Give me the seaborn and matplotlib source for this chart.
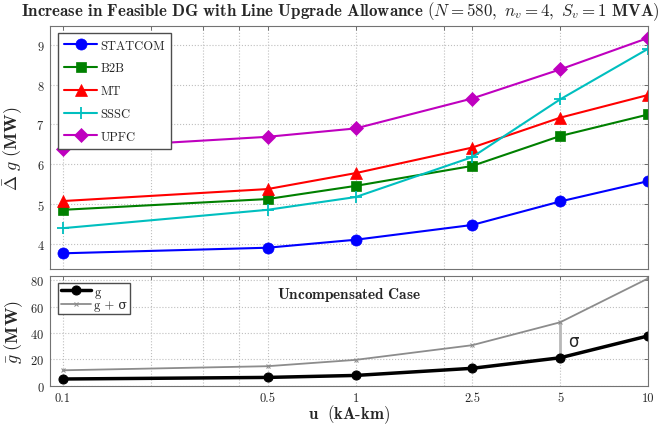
import matplotlib
matplotlib.use("Agg")
import matplotlib.pyplot as plt
import seaborn as sns
import pandas as pd
import numpy as np

# ---- data ----
u_vals = [0.1, 0.5, 1, 2.5, 5, 10]
statcom = [3.77, 3.91, 4.11, 4.48, 5.07, 5.58]
b2b = [4.86, 5.13, 5.46, 5.96, 6.71, 7.25]
mt = [5.08, 5.38, 5.78, 6.42, 7.17, 7.74]
sssc = [4.40, 4.86, 5.18, 6.18, 7.63, 8.90]
upfc = [6.39, 6.69, 6.90, 7.65, 8.38, 9.17]
g_vals = [5.2, 6.4, 7.9, 13.3, 21.3, 37.9]
g_sigma = [11.8, 14.9, 19.7, 30.8, 48.2, 81.5]
tick_vals = [0.1, 0.2, 0.3, 0.4, 0.5, 1, 2, 2.5, 5, 10]
tick_labels = ["0.1", "", "", "", "0.5", "1", "", "2.5", "5", "10"]

sns.set_style("white")
plt.rcParams["font.family"] = ["cmr10", "DejaVu Serif"]
plt.rcParams["mathtext.fontset"] = "cm"
plt.rcParams["axes.formatter.use_mathtext"] = True

fig = plt.figure(figsize=(6.67, 4.27), dpi=100)
ax1 = fig.add_axes([0.075, 0.368, 0.897, 0.569])
ax2 = fig.add_axes([0.075, 0.094, 0.897, 0.258])

series = [
    ("STATCOM", statcom, (0, 0, 1), "o", 8),
    ("B2B", b2b, (0, 0.5, 0), "s", 6.5),
    ("MT", mt, (1, 0, 0), "^", 8.5),
    ("SSSC", sssc, (0, 0.75, 0.75), "+", 9),
    ("UPFC", upfc, (0.75, 0, 0.75), "D", 7),
]
for name, vals, col, mk, ms in series:
    df = pd.DataFrame({"u": u_vals, "v": vals})
    sns.lineplot(data=df, x="u", y="v", ax=ax1, color=col, marker=mk,
                 markersize=ms, linewidth=1.5, label=name,
                 markeredgecolor=col, markeredgewidth=1.3 if mk == "+" else 0.5)

dfg = pd.DataFrame({"u": u_vals, "g": g_vals, "gs": g_sigma})
sns.lineplot(data=dfg, x="u", y="g", ax=ax2, color="black", marker="o",
             markersize=6.5, linewidth=2.5, label="g", markeredgecolor="black")
sns.lineplot(data=dfg, x="u", y="gs", ax=ax2, color=(0.55, 0.55, 0.55), marker="x",
             markersize=3, linewidth=1.3, label="g + σ",
             markeredgecolor=(0.55, 0.55, 0.55))
ax2.vlines(u_vals[4], g_vals[4], g_sigma[4], color=(0.72, 0.72, 0.72), linewidth=2, zorder=1)
ax2.text(5.3, 34, "σ", fontsize=12, family="DejaVu Sans", va="center", ha="left")
ax2.text(0.5, 0.83, r"$\mathbf{Uncompensated\ Case}$", transform=ax2.transAxes,
         ha="center", va="center", fontsize=11)

for ax in (ax1, ax2):
    ax.set_xscale("log")
    ax.set_xlim(0.0903, 10)
    ax.set_xticks(tick_vals)
    ax.xaxis.set_minor_locator(matplotlib.ticker.NullLocator())
    ax.grid(True, which="major", linestyle=":", color=(0.75, 0.75, 0.75), linewidth=0.8)
    ax.tick_params(direction="in", top=True, right=True, length=3, width=0.6,
                   color=(0.35, 0.35, 0.35), labelsize=9, pad=4)
    for sp in ax.spines.values():
        sp.set_color((0.45, 0.45, 0.45))
        sp.set_linewidth(0.8)
    ax.set_xlabel("")

ax1.set_xticklabels([""] * len(tick_vals))
ax2.set_xticklabels(tick_labels)
ax1.set_ylim(3.38, 9.47)
ax1.set_yticks([4, 5, 6, 7, 8, 9])
ax2.set_ylim(0, 83.5)
ax2.set_yticks([0, 20, 40, 60, 80])

ax1.set_ylabel(r"$\bar{\Delta}\ g\ \mathbf{(MW)}$", fontsize=13, labelpad=8)
ax2.set_ylabel(r"$\bar{g}\ \mathbf{(MW)}$", fontsize=13, labelpad=4)
ax2.set_xlabel(r"$\mathbf{u\ \ (kA\text{-}km)}$", fontsize=12, labelpad=-1)

ax1.legend(loc="upper left", fontsize=9, frameon=True, fancybox=False,
           edgecolor=(0.3, 0.3, 0.3), framealpha=1, handlelength=2.6,
           labelspacing=0.85, borderpad=0.5, handletextpad=0.3,
           bbox_to_anchor=(0.003, 0.995))
ax2.legend(loc="upper left", fontsize=9, frameon=True, fancybox=False,
           edgecolor=(0.3, 0.3, 0.3), framealpha=1, handlelength=2.4,
           labelspacing=0.1, borderpad=0.2, handletextpad=0.3,
           bbox_to_anchor=(0.003, 0.99))

fig.text(0.51, 0.972,
         r"$\mathbf{Increase\ in\ Feasible\ DG\ with\ Line\ Upgrade\ Allowance}\ \mathbf{(}N=580,\ n_v=4,\ S_v=1\ \mathbf{MVA)}$",
         ha="center", va="center", fontsize=12.2)

fig.savefig("out.png", dpi=100)
